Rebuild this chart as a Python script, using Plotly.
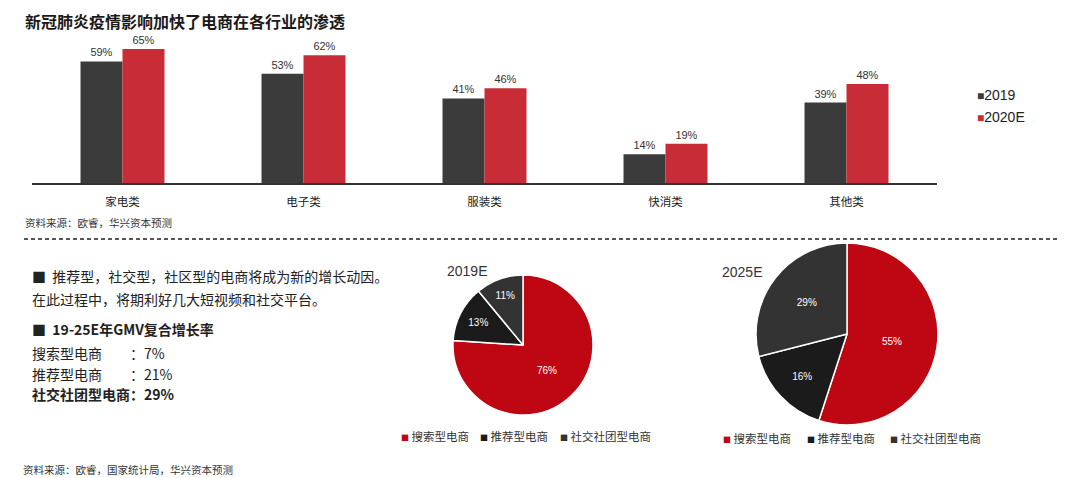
import plotly.graph_objects as go

# the page body keeps its 8px margin, so the figure is drawn 8px in from the window corner
OFF = 8
W, H = 1080 - OFF, 478 - OFF

# bar chart data
categories = ['家电类', '电子类', '服装类', '快消类', '其他类']
pen_2019 = [59, 53, 41, 14, 39]
pen_2020e = [65, 62, 46, 19, 48]

# pie data
pie_labels = ['搜索型电商', '推荐型电商', '社交社团型电商']
share_2019e = [76, 13, 11]
share_2025e = [55, 16, 29]

# CAGR text
cagr_names = ['搜索型电商', '推荐型电商']
cagr_values = ['7%', '21%']

c_dark = '#3b3b3b'
c_red = '#c72c37'
pie_colors = ['#bf0613', '#1b1b1b', '#333333']

cjk = 'Noto Sans CJK SC'
latin = 'Liberation Sans, Arial, Noto Sans CJK SC'


# screen pixel -> paper coordinate
def px(x):
    return (x - OFF) / W


def py(y):
    return 1 - (y - OFF) / H


fig = go.Figure()

fig.add_trace(go.Bar(
    x=categories, y=pen_2019, name='2019',
    marker=dict(color=c_dark, line=dict(width=0)),
    texttemplate='%{y}%', textposition='outside', constraintext='none',
    textfont=dict(family=latin, size=11, color='#333333'),
    cliponaxis=False, showlegend=False,
))
fig.add_trace(go.Bar(
    x=categories, y=pen_2020e, name='2020E',
    marker=dict(color=c_red, line=dict(width=0)),
    texttemplate='%{y}%', textposition='outside', constraintext='none',
    textfont=dict(family=latin, size=11, color='#333333'),
    cliponaxis=False, showlegend=False,
))

# pies
fig.add_trace(go.Pie(
    labels=pie_labels, values=share_2019e, sort=False, direction='clockwise',
    rotation=0, marker=dict(colors=pie_colors, line=dict(color='white', width=1.5)),
    texttemplate='%{value}%', textposition='inside', insidetextorientation='horizontal',
    textfont=dict(family=latin, size=10, color='white'),
    domain=dict(x=[px(453), px(593)], y=[py(415), py(275)]),
    showlegend=False, hoverinfo='label+value',
))
fig.add_trace(go.Pie(
    labels=pie_labels, values=share_2025e, sort=False, direction='clockwise',
    rotation=0, marker=dict(colors=pie_colors, line=dict(color='white', width=1.5)),
    texttemplate='%{value}%', textposition='inside', insidetextorientation='horizontal',
    textfont=dict(family=latin, size=10, color='white'),
    domain=dict(x=[px(756), px(938)], y=[py(425), py(243)]),
    showlegend=False, hoverinfo='label+value',
))

ann = []


def text(x, y, s, size, color='#222222', family=cjk, anchor='left', yanchor='middle'):
    ann.append(dict(x=px(x), y=py(y), xref='paper', yref='paper', text=s,
                    showarrow=False, xanchor=anchor, yanchor=yanchor, borderpad=0,
                    font=dict(family=family, size=size, color=color)))


text(24, OFF, '<b>新冠肺炎疫情影响加快了电商在各行业的渗透</b>', 16, '#1a1a1a', yanchor='top')
text(24, 222, '资料来源：欧睿，华兴资本预测', 10.5, '#333333')
text(22, 469, '资料来源：欧睿，国家统计局，华兴资本预测', 10.5, '#333333')

# bar legend
for yy, name, col in [(95, '2019', c_dark), (117, '2020E', c_red)]:
    text(976, yy, f"<span style='color:{col};font-size:12px'>■</span>{name}", 14, '#222222', latin)

# left notes
text(31, 276, '■  推荐型，社交型，社区型的电商将成为新的增长动因。', 14)
text(31, 299, '在此过程中，将期利好几大短视频和社交平台。', 14)
text(31, 329, '<b>■  19-25E年GMV复合增长率</b>', 14)
for i, (n, v) in enumerate(zip(cagr_names, cagr_values)):
    yy = 353 + i * 20.5
    text(31, yy, n, 14)
    text(129, yy, '：' + v, 14)
text(31, 394, '<b>社交社团型电商：29%</b>', 14)

# pie titles
text(446, 271, '2019E', 14, '#333333', latin)
text(721, 272, '2025E', 14, '#333333', latin)

# pie legends
for xs, yy in [([400, 479, 559], 436), ([722, 806, 889], 438)]:
    for x0, lab, col in zip(xs, pie_labels, pie_colors):
        text(x0, yy, f"<span style='color:{col};font-size:8px'>■</span> {lab}", 11.5, '#333333')

fig.update_layout(
    width=W, height=H,
    margin=dict(l=0, r=0, t=0, b=0),
    paper_bgcolor='white', plot_bgcolor='white',
    barmode='group', bargap=0.536, bargroupgap=0,
    annotations=ann,
    shapes=[dict(type='line', xref='paper', yref='paper',
                 x0=px(24), x1=px(1058), y0=py(239), y1=py(239),
                 line=dict(color='#555555', width=2, dash='4px,3px'))],
    xaxis=dict(domain=[px(32), px(937)], showline=True, linecolor='#333333',
               linewidth=1.5, ticks='', ticklabelstandoff=7, showgrid=False,
               tickfont=dict(family=cjk, size=11.5, color='#222222')),
    yaxis=dict(domain=[py(183), py(35)], range=[0, 71.8], visible=False,
               showgrid=False),
)

fig.write_html('out.html')
